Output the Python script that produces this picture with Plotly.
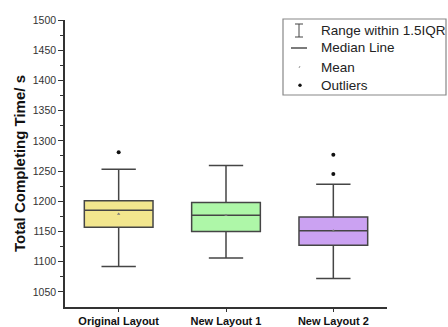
import plotly.graph_objects as go

categories = ["Original Layout", "New Layout 1", "New Layout 2"]
q1 = [1157, 1150, 1127]
median = [1185, 1177, 1151]
q3 = [1201, 1198, 1174]
lower = [1092, 1106, 1072]
upper = [1253, 1259, 1228]
means = [1179, 1177, 1151]
outlier_cat = ["Original Layout", "New Layout 2", "New Layout 2"]
outlier_val = [1281, 1245, 1277]
fills = ["#F2E68E", "#AEF7A8", "#CBA2F2"]

legend_labels = ["Range within 1.5IQR", "Median Line", "Mean", "Outliers"]

FONT = "Arial, Liberation Sans, sans-serif"
EDGE = "#454545"

W, H = 448, 327
ML, MR, MT, MB = 65, 61, 20, 20

fig = go.Figure()
for i, c in enumerate(categories):
    fig.add_trace(go.Box(
        x=[c], q1=[q1[i]], median=[median[i]], q3=[q3[i]],
        lowerfence=[lower[i]], upperfence=[upper[i]],
        fillcolor=fills[i], line=dict(color=EDGE, width=1.5),
        width=0.64, whiskerwidth=0.5, boxpoints=False, showlegend=False,
        hoverinfo="skip",
    ))

fig.add_trace(go.Scatter(
    x=categories, y=means, mode="markers",
    marker=dict(symbol="triangle-up", size=3, color="#777777"),
    showlegend=False, hoverinfo="skip"))
fig.add_trace(go.Scatter(
    x=outlier_cat, y=outlier_val, mode="markers",
    marker=dict(symbol="circle", size=4, color="#111111"),
    showlegend=False, hoverinfo="skip"))

PW = W - ML - MR
PH = H - MT - MB
def px(x):
    return (x - ML) / PW
def py(y):
    return (H - MB - y) / PH

shapes = []
shapes.append(dict(type="rect", xref="paper", yref="paper",
                   x0=px(283), x1=px(446), y0=py(95), y1=py(19),
                   line=dict(color="#888888", width=1.2), fillcolor="white", layer="above"))
shapes.append(dict(type="line", xref="paper", yref="paper", x0=px(299), x1=px(299), y0=py(37), y1=py(24), line=dict(color="#444", width=1)))
shapes.append(dict(type="line", xref="paper", yref="paper", x0=px(295), x1=px(303), y0=py(24), y1=py(24), line=dict(color="#444", width=1)))
shapes.append(dict(type="line", xref="paper", yref="paper", x0=px(295), x1=px(303), y0=py(37), y1=py(37), line=dict(color="#444", width=1)))
shapes.append(dict(type="line", xref="paper", yref="paper", x0=px(291), x1=px(307), y0=py(48), y1=py(48), line=dict(color="#333", width=1.3)))
shapes.append(dict(type="line", xref="paper", yref="paper", x0=px(299), x1=px(300), y0=py(68), y1=py(66), line=dict(color="#999", width=1)))
shapes.append(dict(type="circle", xref="paper", yref="paper", x0=px(298.3), x1=px(301.7), y0=py(87), y1=py(83.6), line=dict(color="#111", width=0), fillcolor="#111"))

annotations = []
rows = [30, 48, 67, 85]
for lab, yy in zip(legend_labels, rows):
    annotations.append(dict(text=lab, xref="paper", yref="paper", x=px(319), y=py(yy),
                            xanchor="left", yanchor="middle", showarrow=False,
                            font=dict(family=FONT, size=13.5, color="#222")))

fig.update_layout(
    width=W, height=H,
    margin=dict(l=ML, r=MR, t=MT, b=MB),
    paper_bgcolor="white", plot_bgcolor="white",
    showlegend=False,
    shapes=shapes, annotations=annotations,
    xaxis=dict(range=[-0.5, 2.5], showline=True, linecolor="#333", linewidth=1.5,
               automargin=False,
               ticks="outside", ticklen=3, tickcolor="#333", tickwidth=1.2,
               showgrid=False, zeroline=False,
               tickfont=dict(family=FONT, size=11, color="#111"),
               tickvals=categories,
               ticktext=["<b>%s</b>" % c for c in categories]),
    yaxis=dict(range=[1025, 1500], showline=True, linecolor="#333", linewidth=1.5,
               automargin=False,
               ticks="outside", ticklen=5, tickcolor="#333", tickwidth=1.2,
               tickvals=list(range(1050, 1501, 50)),
               minor=dict(tickvals=list(range(1075, 1500, 50)), ticks="outside",
                          ticklen=3, tickcolor="#333", tickwidth=1, showgrid=False),
               showgrid=False, zeroline=False,
               tickfont=dict(family=FONT, size=10.5, color="#333"),
               title=dict(text="<b>Total Completing Time/ s</b>", standoff=4,
                          font=dict(family=FONT, size=15, color="#111"))),
)

fig.write_html("out.html", config={"displayModeBar": False},
               post_script="document.body.style.margin='0';document.body.style.padding='0';")
